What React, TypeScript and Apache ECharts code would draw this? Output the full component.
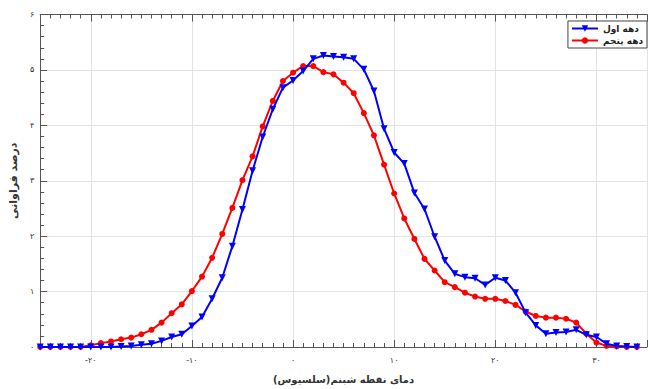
import React, { useEffect, useRef } from "react";
import * as echarts from "echarts";

const temps: number[] = [
  -25, -24, -23, -22, -21, -20, -19, -18, -17, -16, -15, -14, -13, -12, -11, -10, -9, -8, -7, -6, -5, -4, -3, -2, -1,
  0, 1, 2, 3, 4, 5, 6, 7, 8, 9, 10, 11, 12, 13, 14, 15, 16, 17, 18, 19, 20, 21, 22, 23, 24, 25, 26, 27, 28, 29, 30, 31, 32, 33, 34,
];

const decade1: number[] = [
  0, 0, 0, 0, 0, 0, 0, 0, 0.01, 0.02, 0.04, 0.06, 0.11, 0.18, 0.23, 0.38, 0.54, 0.87, 1.25, 1.82, 2.48, 3.18, 3.79, 4.29, 4.68,
  4.81, 4.98, 5.2, 5.26, 5.24, 5.23, 5.2, 5.01, 4.62, 3.94, 3.51, 3.31, 2.78, 2.49, 1.99, 1.56, 1.32, 1.26, 1.24, 1.12, 1.25, 1.2, 0.98, 0.62, 0.39, 0.24, 0.26, 0.27, 0.31, 0.22, 0.18, 0.06, 0.02, 0.01, 0,
];

const decade5: number[] = [
  0, 0, 0, 0, 0, 0.03, 0.07, 0.1, 0.14, 0.17, 0.23, 0.31, 0.44, 0.61, 0.77, 1.01, 1.27, 1.61, 2.04, 2.51, 3.01, 3.44, 3.98, 4.44, 4.8,
  4.95, 5.07, 5.07, 4.96, 4.92, 4.77, 4.58, 4.22, 3.82, 3.29, 2.77, 2.32, 1.95, 1.59, 1.38, 1.17, 1.08, 0.98, 0.91, 0.87, 0.87, 0.83, 0.76, 0.64, 0.56, 0.53, 0.53, 0.51, 0.44, 0.24, 0.08, 0.02, 0.01, 0, 0,
];

const seriesNames: string[] = ["دهه اول", "دهه پنجم"];
const xAxisTitle = "دمای نقطه شبنم(سلسیوس)";
const yAxisTitle = "درصد فراوانی";
const faDigits: string[] = ["۰", "۱", "۲", "۳", "۴", "۵", "۶", "۷", "۸", "۹"];

const X_MIN = -25;
const X_MAX = 35;

const toFa = (v: number): string => {
  const s = String(Math.abs(v)).replace(/[0-9]/g, (d) => faDigits[Number(d)]);
  return (v < 0 ? "-" : "") + s;
};

const FONT = "DejaVu Sans";

export default function App() {
  const ref = useRef<HTMLDivElement>(null);
  useEffect(() => {
    document.body.style.margin = "0";
    if (!ref.current) return;
    const chart = echarts.init(ref.current, undefined, { renderer: "svg" });
    const axisLineColor = "#555";
    const lineOn = { show: true, onZero: false, lineStyle: { color: axisLineColor, width: 1 } };
    const majorTick = { show: true, inside: true, length: 7, lineStyle: { color: axisLineColor } };
    const minorAxis = (position: string) => ({
      type: "value",
      min: X_MIN,
      max: X_MAX,
      interval: 1,
      position,
      axisLine: { show: false, onZero: false },
      axisTick: { show: true, inside: true, length: 4, lineStyle: { color: axisLineColor } },
      axisLabel: { show: false },
      splitLine: { show: false },
    });
    chart.setOption({
      animation: false,
      backgroundColor: "#fff",
      grid: { left: 33, top: 14.5, right: -5, bottom: 40.5, containLabel: false },
      legend: {
        data: seriesNames.map((n) => ({ name: n })),
        orient: "vertical",
        right: 3,
        top: 21,
        backgroundColor: "#fff",
        borderColor: "#444",
        borderWidth: 1,
        borderRadius: 0,
        padding: [3, 4, 3, 3],
        itemGap: 3,
        itemWidth: 26,
        itemHeight: 8,
        textStyle: { fontFamily: FONT, fontSize: 9, fontWeight: "bold", color: "#222" },
      },
      xAxis: [
        {
          type: "value",
          min: X_MIN,
          max: X_MAX,
          splitNumber: 6,
          position: "bottom",
          axisLine: lineOn,
          axisTick: majorTick,
          splitLine: { show: true, lineStyle: { color: "#e3e3e3", width: 1 } },
          axisLabel: {
            fontFamily: FONT,
            fontSize: 8,
            color: "#333",
            margin: 9,
            formatter: (v: number) => (v % 10 === 0 ? toFa(v) : ""),
          },
          name: xAxisTitle,
          nameLocation: "middle",
          nameGap: 27,
          nameTextStyle: { fontFamily: FONT, fontSize: 10, fontWeight: "bold", color: "#333" },
        },
        {
          type: "value",
          min: X_MIN,
          max: X_MAX,
          splitNumber: 6,
          position: "top",
          axisLine: lineOn,
          axisTick: majorTick,
          axisLabel: { show: false },
          splitLine: { show: false },
        },
        minorAxis("bottom"),
        minorAxis("top"),
      ],
      yAxis: {
        type: "value",
        min: 0,
        max: 6,
        interval: 1,
        position: "left",
        axisLine: lineOn,
        axisTick: majorTick,
        minorTick: { show: true, splitNumber: 5, length: 4, lineStyle: { color: axisLineColor } },
        splitLine: { show: true, lineStyle: { color: "#e3e3e3", width: 1 } },
        axisLabel: {
          fontFamily: FONT,
          fontSize: 8,
          color: "#333",
          margin: 6,
          formatter: (v: number) => toFa(v),
        },
        name: yAxisTitle,
        nameLocation: "middle",
        nameRotate: 90,
        nameGap: 18,
        nameTextStyle: { fontFamily: FONT, fontSize: 11, fontWeight: "bold", color: "#333" },
      },
      series: [
        {
          name: seriesNames[0],
          type: "line",
          data: temps.map((t, i) => [t, decade1[i]]),
          symbol: "triangle",
          symbolRotate: 180,
          symbolSize: 7,
          showAllSymbol: true,
          lineStyle: { color: "#0000ff", width: 2 },
          itemStyle: { color: "#0000ff" },
          z: 3,
        },
        {
          name: seriesNames[1],
          type: "line",
          data: temps.map((t, i) => [t, decade5[i]]),
          symbol: "circle",
          symbolSize: 6,
          showAllSymbol: true,
          lineStyle: { color: "#ff0000", width: 2 },
          itemStyle: { color: "#ff0000" },
          z: 2,
        },
      ],
    });
    return () => chart.dispose();
  }, []);
  return <div ref={ref} style={{ width: 650, height: 389 }} />;
}
